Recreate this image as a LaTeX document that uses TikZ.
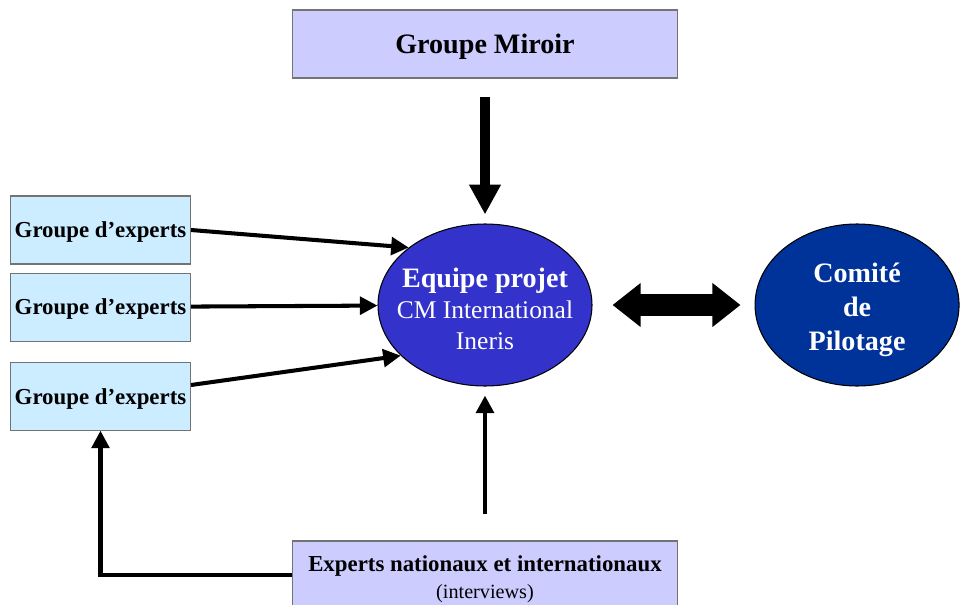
\documentclass[tikz,border=0pt]{standalone}
\usepackage{fontspec}
\setmainfont{Liberation Serif}
\usetikzlibrary{shapes.geometric,arrows.meta,positioning}
\definecolor{boxlilac}{RGB}{204,204,255}
\definecolor{boxcyan}{RGB}{204,236,255}
\definecolor{teamblue}{RGB}{51,51,204}
\definecolor{pilotblue}{RGB}{0,51,153}

\begin{document}
\begin{tikzpicture}[
    box/.style={rectangle, draw=black!55, line width=0.6pt, align=center, inner sep=0pt},
    mirror/.style={box, fill=boxlilac, minimum width=7.7cm, minimum height=1.36cm},
    expert/.style={box, fill=boxcyan, minimum width=3.6cm, minimum height=1.36cm, text depth=0pt, font=\fontsize{13}{15}\selectfont\bfseries},
    blob/.style={ellipse, draw, line width=0.6pt, inner sep=0pt, inner xsep=-0.3cm, align=center, text=white, minimum height=3.24cm},
    arrow/.style={-{Triangle[length=10pt,width=10pt]}, line width=2.3pt},
    bigarrow/.style={-{Triangle[length=17pt,width=17pt]}, line width=5.7pt},
    dblarrow/.style={{Triangle[length=16pt,width=24pt]}-{Triangle[length=16pt,width=24pt]}, line width=12pt}
]
    \useasboundingbox (0,0) rectangle (19.22,12.08);

    \node[mirror, text depth=0pt, font=\fontsize{16}{19}\selectfont\bfseries] (miroir) at (9.70,11.20) {Groupe Miroir};
    \node[blob, fill=teamblue, minimum width=4.28cm, font=\fontsize{14.5}{17.5}\selectfont] (equipe) at (9.70,5.98)
        {{\bfseries\fontsize{16}{17.5}\selectfont\rule{0pt}{15.6pt}Equipe projet}\\CM International\\Ineris};
    \node[blob, fill=pilotblue, minimum width=4.08cm, font=\fontsize{16}{19.5}\selectfont\bfseries, right=3.24cm of equipe] (comite)
        {\rule{0pt}{16.5pt}Comité\\de\\Pilotage};
    \node[expert] (grp1) at (2.01,7.48) {Groupe d’experts};
    \node[expert, below=0.16cm of grp1] (grp2) {Groupe d’experts};
    \node[expert, below=0.4cm of grp2] (grp3) {Groupe d’experts};
    \node[mirror] (experts) at (9.70,0.58)
        {{\bfseries\fontsize{13}{15}\selectfont\rule{0pt}{14pt}Experts nationaux et internationaux}\\[3pt]{\fontsize{11.5}{13}\selectfont (interviews)}};

    \draw[bigarrow, shorten <=0.36cm, shorten >=0.18cm] (miroir) -- (equipe);
    \draw[arrow, line width=2.8pt, shorten <=0.52cm, shorten >=0.18cm] (experts) -- (equipe);
    \draw[dblarrow, shorten <=0.4cm, shorten >=0.28cm] (equipe) -- (comite);
    \draw[arrow] (grp1.east) -- (equipe.143);
    \draw[arrow] (grp2) -- (equipe);
    \draw[arrow] (grp3.7) -- (equipe.211);
    \draw[arrow] (experts.west) -| (grp3.south);
\end{tikzpicture}
\end{document}
